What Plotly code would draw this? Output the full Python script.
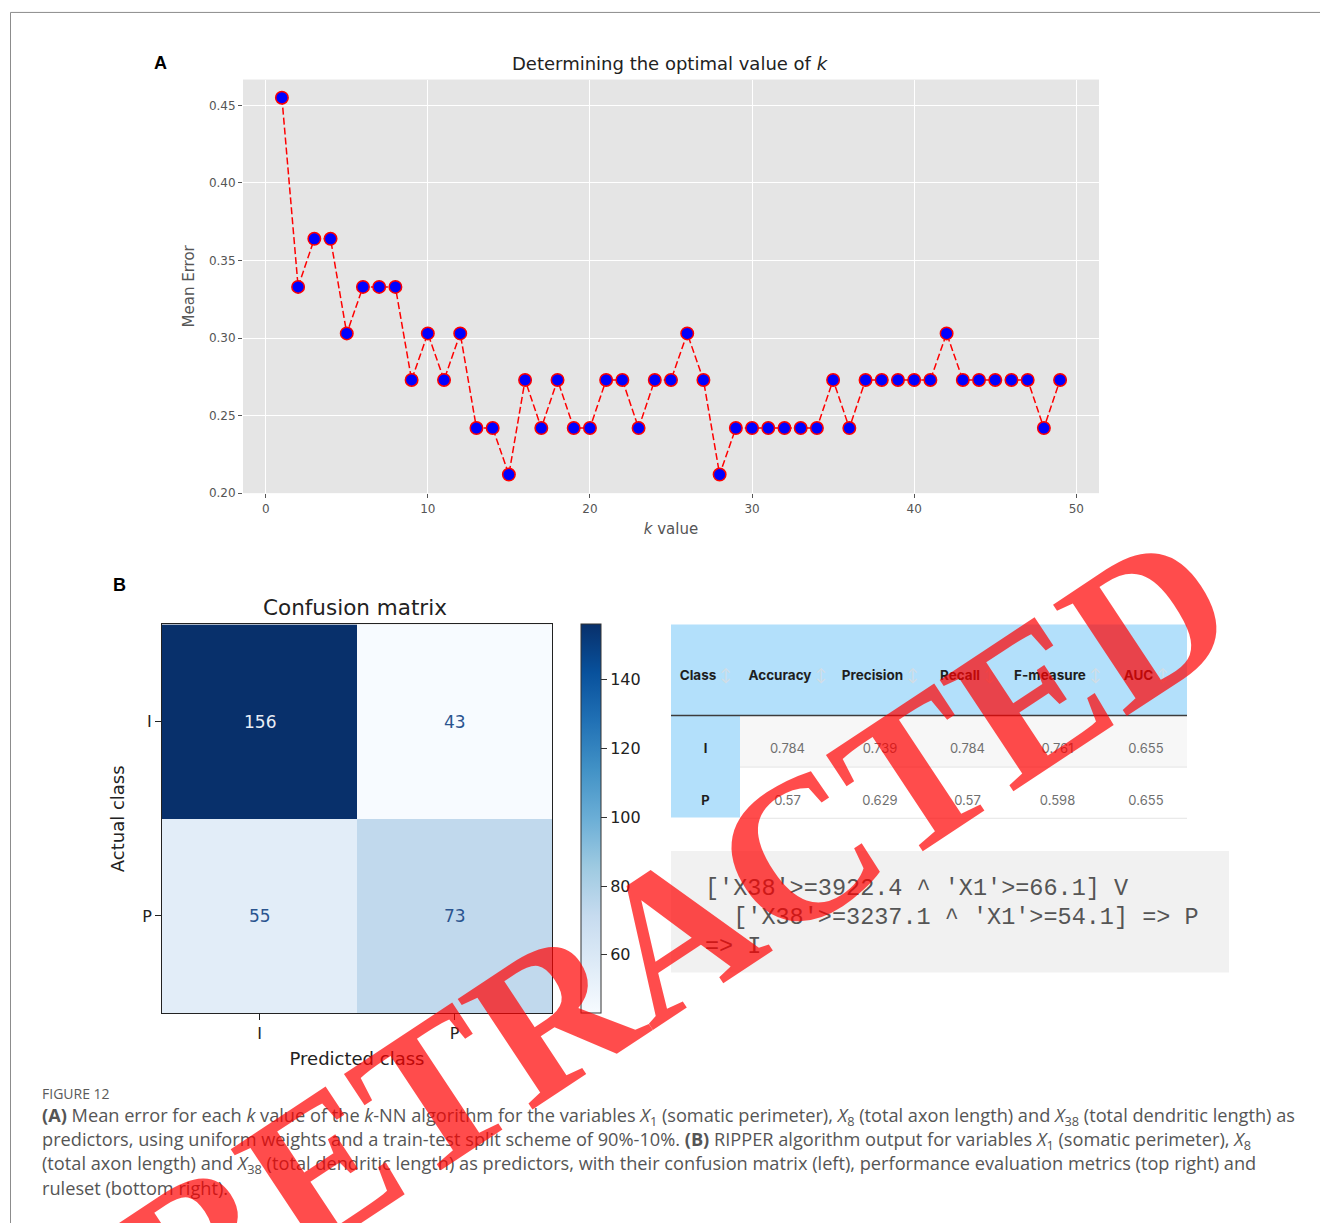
import plotly.graph_objects as go

W, H = 1320, 1223


def px(x):
    return x / W


def py(y):
    return 1 - y / H


# ---------------- Panel A data ----------------
k_values = [1, 2, 3, 4, 5, 6, 7, 8, 9, 10, 11, 12, 13, 14, 15, 16, 17, 18, 19, 20,
            21, 22, 23, 24, 25, 26, 27, 28, 29, 30, 31, 32, 33, 34, 35, 36, 37, 38, 39, 40,
            41, 42, 43, 44, 45, 46, 47, 48, 49]
mean_error = [0.455, 0.333, 0.364, 0.364, 0.303, 0.333, 0.333, 0.333, 0.273, 0.303,
              0.273, 0.303, 0.242, 0.242, 0.212, 0.273, 0.242, 0.273, 0.242, 0.242,
              0.273, 0.273, 0.242, 0.273, 0.273, 0.303, 0.273, 0.212, 0.242, 0.242,
              0.242, 0.242, 0.242, 0.242, 0.273, 0.242, 0.273, 0.273, 0.273, 0.273,
              0.273, 0.303, 0.273, 0.273, 0.273, 0.273, 0.273, 0.242, 0.273]
x_ticks = [0, 10, 20, 30, 40, 50]
y_ticks = [0.20, 0.25, 0.30, 0.35, 0.40, 0.45]

# ---------------- Panel B data ----------------
cm_classes = ["I", "P"]
cm_counts = [[156, 43], [55, 73]]
cbar_ticks = [60, 80, 100, 120, 140]

metric_headers = ["Class", "Accuracy", "Precision", "Recall", "F-measure", "AUC"]
metric_classes = ["I", "P"]
accuracy = [0.784, 0.57]
precision = [0.739, 0.629]
recall = [0.784, 0.57]
f_measure = [0.761, 0.598]
auc = [0.655, 0.655]

rules_lines = ["['X38'>=3922.4 ^ 'X1'>=66.1] V",
               "\u00a0\u00a0['X38'>=3237.1 ^ 'X1'>=54.1] => P",
               "=> I"]

caption_lines = [
    "<b>(A)</b> Mean error for each <i>k</i> value of the <i>k</i>-NN algorithm for the variables <i>X</i><sub>1</sub> (somatic perimeter), <i>X</i><sub>8</sub> (total axon length) and <i>X</i><sub>38</sub> (total dendritic length) as",
    "predictors, using uniform weights and a train-test split scheme of 90%-10%. <b>(B)</b> RIPPER algorithm output for variables <i>X</i><sub>1</sub> (somatic perimeter), <i>X</i><sub>8</sub>",
    "(total axon length) and <i>X</i><sub>38</sub> (total dendritic length) as predictors, with their confusion matrix (left), performance evaluation metrics (top right) and",
    "ruleset (bottom right).",
]

blues = ["#f7fbff", "#deebf7", "#c6dbef", "#9ecae1", "#6baed6",
         "#4292c6", "#2171b5", "#08519c", "#08306b"]
blues_scale = [[i / (len(blues) - 1), c] for i, c in enumerate(blues)]

fig = go.Figure()

# Panel A: k-NN mean error
fig.add_trace(go.Scatter(
    x=k_values, y=mean_error, mode="lines+markers",
    line=dict(color="red", width=1.5, dash="7px,3px"),
    marker=dict(size=12.5, color="blue", line=dict(color="red", width=1.5)),
    xaxis="x", yaxis="y", showlegend=False, hoverinfo="skip"))

# Panel B: confusion matrix
flat = [v for row in cm_counts for v in row]
zmin, zmax = min(flat), max(flat)
fig.add_trace(go.Heatmap(
    z=cm_counts, x=cm_classes, y=cm_classes, xaxis="x2", yaxis="y2",
    colorscale=blues_scale, zmin=zmin, zmax=zmax, hoverinfo="skip",
    colorbar=dict(
        x=px(581), xanchor="left", xref="paper",
        y=py(628), yanchor="top", yref="paper",
        len=(1019 - 628) / H, lenmode="fraction",
        thickness=20, thicknessmode="pixels",
        outlinewidth=1, outlinecolor="#333",
        ticks="outside", ticklen=6, tickwidth=1, tickcolor="#333",
        tickvals=cbar_ticks,
        tickfont=dict(family="DejaVu Sans", size=16, color="#222"),
        xpad=0, ypad=0)))

# Metrics table
hdr_blue = "#b3e0fb"
NB = "\u00a0"
header_vals = [NB + "<br>" + NB + '<br><b>' + h + '</b> <span style="color:#d3dde4">\u2195</span>'
               for h in metric_headers]
cell_cols = [[NB + "<br><b>" + c + "</b>" for c in metric_classes],
             [NB + "<br>" + str(v) for v in accuracy], [NB + "<br>" + str(v) for v in precision],
             [NB + "<br>" + str(v) for v in recall], [NB + "<br>" + str(v) for v in f_measure],
             [NB + "<br>" + str(v) for v in auc]]
fills = [[hdr_blue, hdr_blue]] + [["#f7f7f7", "#ffffff"] for _ in range(5)]
fig.add_trace(go.Table(
    domain=dict(x=[px(671), px(1187)], y=[py(823), py(628)]),
    columnwidth=[69, 95, 90, 85, 95, 82],
    header=dict(values=header_vals, fill_color=hdr_blue, line_width=0,
                height=91, align="center",
                font=dict(family="Inter", size=13.5, color="#1e1e1e")),
    cells=dict(values=cell_cols, fill_color=fills, line_width=0, height=52,
               align="center",
               font=dict(family="Inter", size=13,
                         color=["#1e1e1e"] + ["#707070"] * 5))))

annotations = []
shapes = []

# figure frame
shapes.append(dict(type="rect", xref="paper", yref="paper",
                   x0=px(10.5), y0=py(12.5), x1=1.02, y1=-0.02,
                   line=dict(color="#8c8c8c", width=1), layer="below"))

# table lines
shapes.append(dict(type="line", xref="paper", yref="paper",
                   x0=px(671), x1=px(1187), y0=py(719.5), y1=py(719.5),
                   line=dict(color="#3c3c3c", width=1.5)))
for yy in [771.5, 823]:
    shapes.append(dict(type="line", xref="paper", yref="paper",
                       x0=px(740), x1=px(1187), y0=py(yy), y1=py(yy),
                       line=dict(color="#e4e4e4", width=1)))

# rules box
shapes.append(dict(type="rect", xref="paper", yref="paper",
                   x0=px(671), x1=px(1229), y0=py(978), y1=py(856),
                   fillcolor="#f1f1f1", line=dict(width=0), layer="below"))
rule_pos = [(703, 894), (703, 923), (703, 952)]
for (xx, yy), t in zip(rule_pos, rules_lines):
    annotations.append(dict(text=t, x=px(xx), y=py(yy), xref="paper", yref="paper",
                            xanchor="left", yanchor="middle", showarrow=False,
                            font=dict(family="Liberation Mono", size=23.5, color="#555")))

# heatmap cell values
thresh = (zmin + zmax) / 2
for i, yc in enumerate(cm_classes):
    for j, xc in enumerate(cm_classes):
        v = cm_counts[i][j]
        annotations.append(dict(text=str(v), x=xc, y=yc, xref="x2", yref="y2",
                                showarrow=False,
                                font=dict(family="DejaVu Sans", size=17,
                                          color="#e9eef6" if v > thresh else "#2a548f")))

# titles & labels
annotations += [
    dict(text="Determining the optimal value of <i>k</i>", x=px(670), y=py(64),
         xref="paper", yref="paper", showarrow=False, xanchor="center", yanchor="middle",
         font=dict(family="DejaVu Sans", size=18, color="#222")),
    dict(text="<b>A</b>", x=px(160), y=py(63), xref="paper", yref="paper", showarrow=False,
         xanchor="center", yanchor="middle",
         font=dict(family="Liberation Sans", size=18, color="#000")),
    dict(text="<b>B</b>", x=px(119), y=py(588), xref="paper", yref="paper", showarrow=False,
         xanchor="center", yanchor="middle",
         font=dict(family="Liberation Sans", size=18, color="#000")),
    dict(text="Confusion matrix", x=px(355), y=py(611), xref="paper", yref="paper",
         showarrow=False, xanchor="center", yanchor="middle",
         font=dict(family="DejaVu Sans", size=21.5, color="#222")),
    dict(text="FIGURE 12", x=px(40), y=py(1100), xref="paper", yref="paper",
         showarrow=False, xanchor="left", yanchor="middle",
         font=dict(family="Open Sans", size=14, color="#5a5a5a")),
]
for n, line in enumerate(caption_lines):
    annotations.append(dict(text=line, x=px(40), y=py(1123 + 24 * n), xref="paper", yref="paper",
                            showarrow=False, xanchor="left", yanchor="middle",
                            font=dict(family="Open Sans", size=18.2, color="#555")))

# watermark
annotations.append(dict(text="<b>RETRACTED</b>", x=px(674), y=py(938), xref="paper", yref="paper",
                        showarrow=False, xanchor="center", yanchor="middle", textangle=-33.5,
                        font=dict(family="Liberation Serif", size=204, color="rgba(255,0,0,0.7)")))

fig.update_layout(
    width=W, height=H, autosize=False,
    margin=dict(l=0, r=0, t=0, b=0),
    paper_bgcolor="white", plot_bgcolor="#e5e5e5",
    showlegend=False,
    xaxis=dict(domain=[px(243), px(1099)], anchor="y", range=[-1.4, 51.4],
               tickvals=x_ticks, showgrid=True, gridcolor="white", gridwidth=1,
               zeroline=False, showline=False, ticks="outside", ticklen=4,
               tickcolor="#555", tickfont=dict(family="DejaVu Sans", size=12, color="#555"),
               title=dict(text="<i>k</i> value", standoff=8,
                          font=dict(family="DejaVu Sans", size=15, color="#555"))),
    yaxis=dict(domain=[py(496), py(80)], anchor="x", range=[0.2, 0.4667],
               tickvals=y_ticks, tickformat=".2f", showgrid=True, gridcolor="white",
               gridwidth=1, zeroline=False, showline=False, ticks="outside", ticklen=4,
               tickcolor="#555", tickfont=dict(family="DejaVu Sans", size=12, color="#555"),
               title=dict(text="Mean Error", standoff=10,
                          font=dict(family="DejaVu Sans", size=15, color="#555"))),
    xaxis2=dict(domain=[px(162), px(552)], anchor="y2", showgrid=False, zeroline=False,
                showline=True, mirror=True, linecolor="#222", linewidth=1,
                ticks="outside", ticklen=6, tickcolor="#222",
                tickfont=dict(family="DejaVu Sans", size=16, color="#222"),
                title=dict(text="Predicted class", standoff=10,
                           font=dict(family="DejaVu Sans", size=18, color="#222"))),
    yaxis2=dict(domain=[py(1019), py(628)], anchor="x2", autorange="reversed",
                showgrid=False, zeroline=False,
                showline=True, mirror=True, linecolor="#222", linewidth=1,
                ticks="outside", ticklen=6, tickcolor="#222",
                tickfont=dict(family="DejaVu Sans", size=16, color="#222"),
                title=dict(text="Actual class", standoff=12,
                           font=dict(family="DejaVu Sans", size=18, color="#222"))),
    annotations=annotations,
    shapes=shapes,
)

fig.write_html("out.html")
